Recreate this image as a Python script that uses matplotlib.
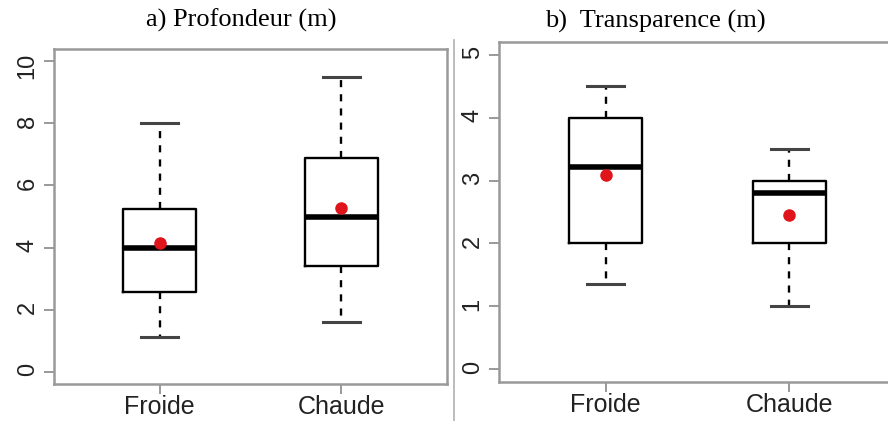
import matplotlib.pyplot as plt

# données
categories = ['Froide', 'Chaude']

prof_whislo = [1.1, 1.6]
prof_q1 = [2.55, 3.4]
prof_med = [4.0, 5.0]
prof_q3 = [5.25, 6.9]
prof_whishi = [8.0, 9.5]
prof_mean = [4.13, 5.27]

trans_whislo = [1.35, 1.0]
trans_q1 = [2.0, 2.0]
trans_med = [3.22, 2.8]
trans_q3 = [4.0, 3.0]
trans_whishi = [4.5, 3.5]
trans_mean = [3.08, 2.45]

prof_ticks = [0, 2, 4, 6, 8, 10]
trans_ticks = [0, 1, 2, 3, 4, 5]

plt.rcParams['font.family'] = ['Liberation Sans', 'DejaVu Sans']

GRAY = '#999999'


def make_stats(lo, q1, med, q3, hi, mean):
    stats = []
    for i in range(len(lo)):
        stats.append({'whislo': lo[i], 'q1': q1[i], 'med': med[i], 'q3': q3[i],
                      'whishi': hi[i], 'mean': mean[i], 'fliers': []})
    return stats


def draw_panel(ax, stats, ticks, ylim):
    ax.bxp(stats, positions=[1, 2], widths=0.4, capwidths=0.2, showmeans=True,
           boxprops=dict(color='black', linewidth=1.7),
           medianprops=dict(color='black', linewidth=4, solid_capstyle='butt'),
           whiskerprops=dict(color='black', linewidth=1.7, linestyle=(0, (3, 3))),
           capprops=dict(color='#444444', linewidth=2.2),
           meanprops=dict(marker='o', markerfacecolor='#e0141b',
                          markeredgecolor='#e0141b', markersize=8))
    ax.set_xlim(0.42, 2.58)
    ax.set_ylim(*ylim)
    ax.set_xticks([1, 2])
    ax.set_xticklabels(categories)
    ax.set_yticks(ticks)
    ax.tick_params(axis='y', labelrotation=90, labelsize=17, pad=4)
    ax.tick_params(axis='x', labelsize=18, pad=1)
    ax.tick_params(colors=GRAY, labelcolor='#222222', length=7, width=1.4)
    for s in ax.spines.values():
        s.set_color(GRAY)
        s.set_linewidth(1.8)


fig = plt.figure(figsize=(8.88, 4.21), dpi=100)

ax1 = fig.add_axes([54 / 888, 1 - 384 / 421, 393 / 888, 335 / 421])
draw_panel(ax1, make_stats(prof_whislo, prof_q1, prof_med, prof_q3, prof_whishi, prof_mean),
           prof_ticks, (-0.4, 10.4))

ax2 = fig.add_axes([499 / 888, 1 - 382 / 421, 397 / 888, 340 / 421])
draw_panel(ax2, make_stats(trans_whislo, trans_q1, trans_med, trans_q3, trans_whishi, trans_mean),
           trans_ticks, (-0.2, 5.2))

# ligne de séparation entre les deux panneaux
fig.add_artist(plt.Line2D([454 / 888, 454 / 888], [0, 1 - 40 / 421],
                          color='#b0b0b0', linewidth=1.2))

fig.text(241 / 888, 1 - 27 / 421, 'a) Profondeur (m)', ha='center', va='baseline',
         family='Liberation Serif', fontsize=19)
fig.text(655 / 888, 1 - 28 / 421, 'b)  Transparence (m)', ha='center', va='baseline',
         family='Liberation Serif', fontsize=19)

fig.savefig('out.png', dpi=100)
